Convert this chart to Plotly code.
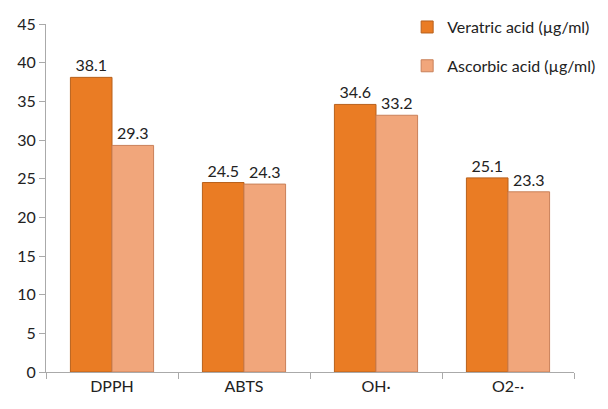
import plotly.graph_objects as go

categories = ["DPPH", "ABTS", "OH·", "O2-·"]
veratric = [38.1, 24.5, 34.6, 25.1]
ascorbic = [29.3, 24.3, 33.2, 23.3]
y_ticks = [0, 5, 10, 15, 20, 25, 30, 35, 40, 45]

font_family = "Lato, Open Sans, sans-serif"

fig = go.Figure()
fig.add_trace(go.Bar(
    x=categories, y=veratric, name="Veratric acid (µg/ml)", legendgroup="a",
    marker=dict(color="#EA7C24", line=dict(color="#B8611C", width=1)),
    text=[f"{v:.1f}" for v in veratric], textposition="outside",
    textfont=dict(size=16, color="#222222", family=font_family),
    cliponaxis=False,
))
fig.add_trace(go.Bar(
    x=categories, y=ascorbic, name="Ascorbic acid (µg/ml)", legendgroup="b",
    marker=dict(color="#F1A67B", line=dict(color="#C98059", width=1)),
    text=[f"{v:.1f}" for v in ascorbic], textposition="outside",
    textfont=dict(size=16, color="#222222", family=font_family),
    cliponaxis=False,
))

fig.update_layout(
    width=608, height=409,
    margin=dict(l=38, r=42, t=16, b=45, autoexpand=False),
    paper_bgcolor="white", plot_bgcolor="white",
    barmode="group", bargap=0.37, bargroupgap=0,
    font=dict(family=font_family, size=16, color="#222222"),
    showlegend=True,
    legend=dict(x=0.684, y=1.04, xanchor="left", yanchor="top",
                bgcolor="rgba(0,0,0,0)", font=dict(size=16),
                itemwidth=30, tracegroupgap=15),
    xaxis=dict(showline=True, linecolor="#AAAAAA", linewidth=1,
               ticks="outside", tickson="boundaries", ticklen=6,
               tickcolor="#AAAAAA", showgrid=False, tickfont=dict(size=16)),
    yaxis=dict(range=[0, 45], tickvals=y_ticks, showline=True,
               linecolor="#AAAAAA", linewidth=1, ticks="outside",
               ticklen=6, tickcolor="#AAAAAA", showgrid=False,
               zeroline=False, tickfont=dict(size=16)),
)

fig.write_html("out.html")
